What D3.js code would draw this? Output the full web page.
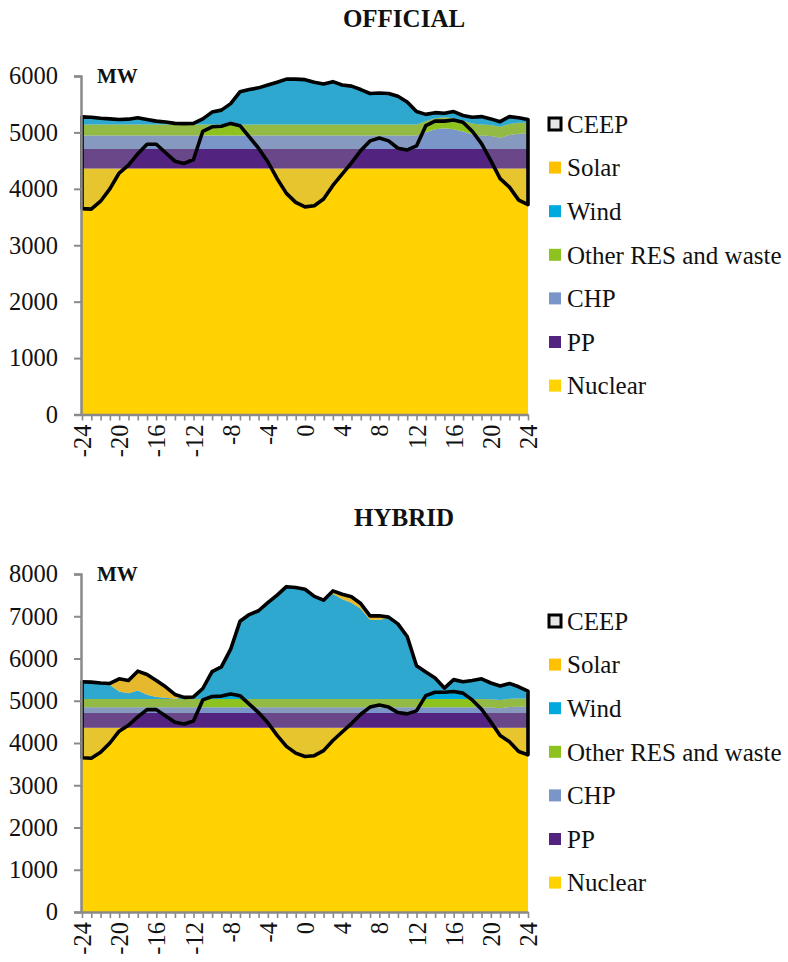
<!DOCTYPE html>
<html><head><meta charset="utf-8">
<script src="https://cdn.jsdelivr.net/npm/d3@7"></script>
<style>body{margin:0;background:#fff}text{font-family:"Liberation Serif","Times New Roman",serif;fill:#111}</style>
</head><body>
<svg id="c" width="788" height="962"></svg>
<script>
// ---------- DATA ----------
const hours = [-24,-23,-22,-21,-20,-19,-18,-17,-16,-15,-14,-13,-12,-11,-10,-9,-8,-7,-6,-5,-4,-3,-2,-1,0,1,2,3,4,5,6,7,8,9,10,11,12,13,14,15,16,17,18,19,20,21,22,23,24];
const xTickLabels = [-24,-20,-16,-12,-8,-4,0,4,8,12,16,20,24];
const seriesNames = ["Nuclear","PP","CHP","Other RES and waste","Wind","Solar"];
const legendNames = ["CEEP","Solar","Wind","Other RES and waste","CHP","PP","Nuclear"];

// demand curve (black line, lower edge of CEEP)
const demand = [3650,3640,3780,4000,4280,4420,4620,4790,4790,4640,4490,4450,4520,5020,5100,5110,5160,5120,4920,4720,4480,4180,3920,3760,3680,3700,3820,4060,4260,4460,4680,4850,4900,4850,4720,4690,4760,5120,5200,5200,5220,5180,5020,4800,4500,4180,4030,3800,3720];

// OFFICIAL
const offNuclear = [4360,4360,4360,4360,4360,4360,4360,4360,4360,4360,4360,4360,4360,4360,4360,4360,4360,4360,4360,4360,4360,4360,4360,4360,4360,4360,4360,4360,4360,4360,4360,4360,4360,4360,4360,4360,4360,4360,4360,4360,4360,4360,4360,4360,4360,4360,4360,4360,4360];
const offPP = [345,345,345,345,345,345,345,345,345,345,345,345,345,345,345,345,345,345,345,345,345,345,345,345,345,345,345,345,345,345,345,345,345,345,345,345,345,345,345,345,345,345,345,345,345,345,345,345,345];
const offCHP = [240,240,240,240,240,240,240,240,240,240,240,240,240,240,240,240,240,240,240,240,240,240,240,240,240,240,240,240,240,240,240,240,240,240,240,240,240,300,350,370,350,310,260,240,230,200,250,270,270];
const offOther = [195,195,195,195,195,195,195,195,195,195,195,195,195,195,195,195,195,195,195,195,195,195,195,195,195,195,195,195,195,195,195,195,195,195,195,195,195,195,195,195,195,195,195,195,195,195,195,195,195];
const offWind = [135,130,110,100,90,95,120,90,60,45,20,15,20,100,220,255,370,580,620,650,700,750,805,805,795,750,720,760,700,680,620,550,560,550,500,400,230,120,100,70,120,90,110,140,110,90,130,90,60];
const offSolar = [0,0,0,0,0,0,0,0,0,0,0,0,0,0,0,0,0,0,0,0,0,0,0,0,0,0,0,0,0,0,0,0,0,0,0,0,0,0,0,0,0,0,0,0,0,0,0,0,0];

// HYBRID
const hybNuclear = [4360,4360,4360,4360,4360,4360,4360,4360,4360,4360,4360,4360,4360,4360,4360,4360,4360,4360,4360,4360,4360,4360,4360,4360,4360,4360,4360,4360,4360,4360,4360,4360,4360,4360,4360,4360,4360,4360,4360,4360,4360,4360,4360,4360,4360,4360,4360,4360,4360];
const hybPP = [350,350,350,350,350,350,350,350,350,350,350,350,350,350,350,350,350,350,350,350,350,350,350,350,350,350,350,350,350,350,350,350,350,350,350,350,350,350,350,350,350,350,350,350,350,350,350,350,350];
const hybCHP = [135,135,135,135,135,135,135,135,135,135,135,135,135,135,135,135,135,135,135,135,135,135,135,135,135,135,135,135,135,135,135,135,135,135,135,135,135,135,135,135,135,135,135,135,130,110,140,150,150];
const hybOther = [195,195,195,195,195,195,195,195,195,195,195,195,195,195,195,195,195,195,195,195,195,195,195,195,195,195,195,195,195,195,195,195,195,195,195,195,195,195,195,195,195,195,195,195,195,195,195,195,195];
const hybWind = [410,400,380,330,180,140,200,100,50,30,5,40,50,250,650,760,1180,1840,2000,2090,2280,2460,2660,2640,2600,2430,2340,2490,2360,2280,2140,1870,1880,1910,1780,1480,790,640,500,260,460,410,440,480,385,335,365,275,175];
const hybSolar = [0,0,0,40,300,300,460,480,390,260,105,0,0,0,0,0,0,0,0,0,0,0,0,0,0,0,0,70,120,140,120,100,90,30,0,0,0,0,0,0,0,0,0,0,0,0,0,0,0];

const yTicksOfficial = [0,1000,2000,3000,4000,5000,6000];
const yTicksHybrid = [0,1000,2000,3000,4000,5000,6000,7000,8000];

// ---------- STYLE ----------
const colors = {"Nuclear":"#FFD200","PP":"#52237F","CHP":"#7A95C8","Other RES and waste":"#8DC21F","Wind":"#00A9DE","Solar":"#FFC000"};
const axisColor = "#8a8a8a";
const svg = d3.select("#c");

function drawChart(cfg){
  const g = svg.append("g");
  const x = d3.scaleLinear().domain([-24,24]).range([82,528]);
  const y = d3.scaleLinear().domain([0,cfg.yMax]).range([cfg.y0,cfg.yTop]);
  const rows = hours.map((h,i)=>{
    const r = {h:h, demand:demand[i]};
    seriesNames.forEach((k,j)=>{ r[k] = cfg.series[j][i]; });
    return r;
  });
  const stack = d3.stack().keys(seriesNames)(rows);
  const area = d3.area().x(d=>x(d.data.h)).y0(d=>y(d[0])).y1(d=>y(d[1]));
  g.selectAll("path.layer").data(stack).join("path")
    .attr("class","layer").attr("d",area).attr("fill",d=>colors[d.key]);
  const top = stack[stack.length-1];
  // CEEP area: between demand and total supply
  const ceep = d3.area().x((d,i)=>x(hours[i])).y0((d,i)=>y(demand[i])).y1(d=>y(d[1]));
  g.append("path").datum(top).attr("d",ceep)
    .attr("fill","#A6A6A6").attr("fill-opacity",0.28)
    .attr("stroke","#000").attr("stroke-width",3.6).attr("stroke-linejoin","round");

  // axes
  const ya = g.append("g").attr("transform","translate(81,0)")
    .call(d3.axisLeft(y).tickValues(cfg.yTicks).tickSize(7).tickPadding(16).tickFormat(d3.format("d")));
  ya.select(".domain").attr("stroke",axisColor).attr("stroke-width",2.5);
  ya.selectAll(".tick line").attr("stroke",axisColor).attr("stroke-width",2);
  ya.selectAll(".tick text").style("font-size","24.5px").attr("fill","#111");

  const xa = g.append("g").attr("transform",`translate(0,${cfg.y0})`)
    .call(d3.axisBottom(x).tickValues(hours).tickSize(6).tickSizeOuter(0)
      .tickFormat(d=>xTickLabels.includes(d)?String(d):""));
  xa.select(".domain").attr("stroke",axisColor).attr("stroke-width",2.5);
  xa.selectAll(".tick line").attr("stroke",axisColor).attr("stroke-width",1.6);
  xa.selectAll(".tick text").style("font-size","24.5px").attr("fill","#111")
    .attr("transform","rotate(-90)").attr("text-anchor","end")
    .attr("x",-10).attr("y",0).attr("dy","0.35em");

  // title
  g.append("text").attr("x",404).attr("y",cfg.titleY).attr("text-anchor","middle")
    .style("font-size","25px").style("font-weight","bold").text(cfg.title);
  g.append("text").attr("x",97).attr("y",cfg.yTop+7).style("font-size","21px")
    .style("font-weight","bold").text("MW");

  // legend
  const lg = g.append("g");
  legendNames.forEach((name,i)=>{
    const cy = cfg.legendY + i*43.6;
    if(name==="CEEP"){
      lg.append("rect").attr("x",549).attr("y",cy-6).attr("width",12).attr("height",12)
        .attr("fill","#E6E6E6").attr("stroke","#000").attr("stroke-width",3);
    } else {
      lg.append("rect").attr("x",549).attr("y",cy-6).attr("width",12).attr("height",12)
        .attr("fill",colors[name]);
    }
    lg.append("text").attr("x",567).attr("y",cy).attr("dy","0.35em")
      .style("font-size","25px").text(name);
  });
}

drawChart({title:"OFFICIAL", titleY:27, yMax:6000, y0:414.5, yTop:76, yTicks:yTicksOfficial,
  legendY:124, series:[offNuclear,offPP,offCHP,offOther,offWind,offSolar]});
drawChart({title:"HYBRID", titleY:526, yMax:8000, y0:912, yTop:574, yTicks:yTicksHybrid,
  legendY:621, series:[hybNuclear,hybPP,hybCHP,hybOther,hybWind,hybSolar]});
</script>
</body></html>
